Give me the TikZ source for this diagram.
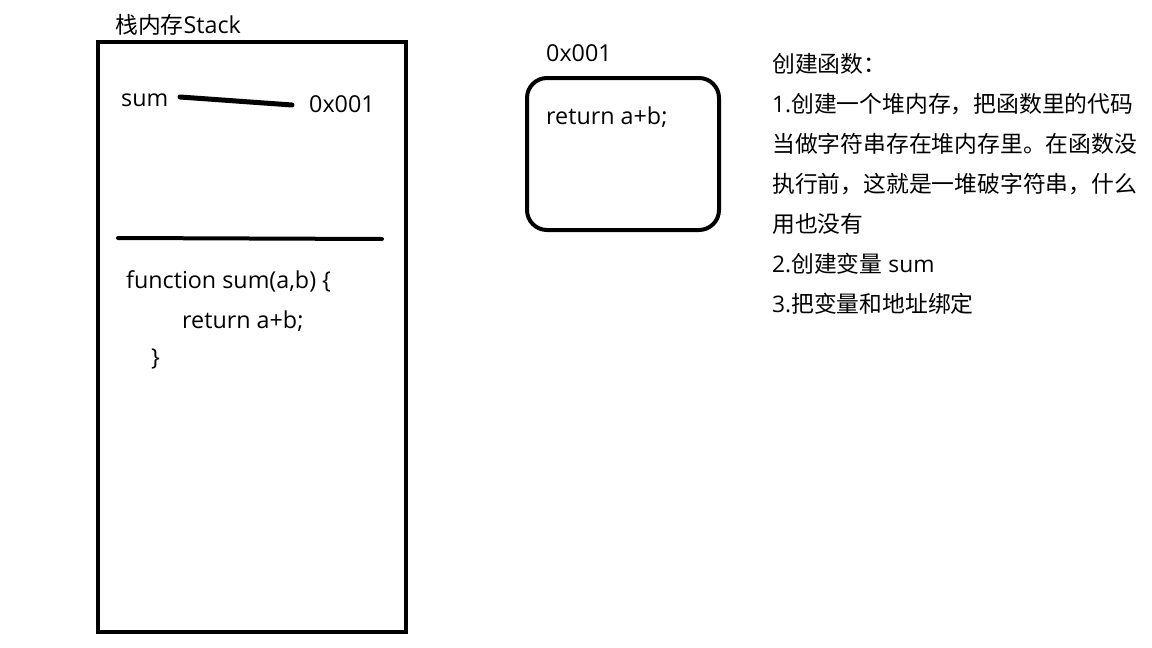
\documentclass[tikz,border=0pt]{standalone}
\usepackage{fontspec}
\setmainfont{Open Sans}
\newfontfamily\cjk{Noto Sans CJK SC}
\begin{document}
\begin{tikzpicture}[x=1pt,y=-1pt,
  txt/.style={anchor=west,inner sep=0pt,font=\fontsize{23.3}{26}\selectfont},
  ctxt/.style={anchor=west,inner sep=0pt,font=\fontsize{22.8}{26}\selectfont},
]
\useasboundingbox (0,0) rectangle (1152,648);
% stack
\node[txt] (title) at (115,25) {{\cjk\fontsize{22.8}{26}\selectfont 栈内存}Stack};
\draw[line width=4.5pt] (98,42) rectangle (406,632);
\node[txt] (sumv) at (121,100) {sum};
\node[txt] (addr1) at (309,104) {0x001};
\coordinate (la) at (180,97);
\coordinate (lb) at (292,105);
\draw[line width=5pt,line cap=round] (la) -- (lb);
\coordinate (da) at (118,238);
\coordinate (db) at (382,239);
\draw[line width=4pt,line cap=round] (da) -- (db);
\node[txt] (f1) at (126,281) {function sum(a,b) \{};
\node[txt] (f2) at (182,321) {return a+b;};
\node[txt] (f3) at (151,359) {\}};
% heap
\node[txt] (addr2) at (546,53) {0x001};
\draw[line width=4pt,rounded corners=20pt] (527,78) rectangle (719,230);
\node[txt] (hret) at (546,117) {return a+b;};
% notes
\node[ctxt] (n1) at (772,64) {\cjk 创建函数：};
\node[ctxt] (n2) at (772,104) {1.{\cjk 创建一个堆内存，把函数里的代码}};
\node[ctxt] (n3) at (772,144) {\cjk 当做字符串存在堆内存里。在函数没};
\node[ctxt] (n4) at (772,184) {\cjk 执行前，这就是一堆破字符串，什么};
\node[ctxt] (n5) at (772,224) {\cjk 用也没有};
\node[ctxt] (n6) at (772,264) {2.{\cjk 创建变量} sum};
\node[ctxt] (n7) at (772,304) {3.{\cjk 把变量和地址绑定}};
\end{tikzpicture}
\end{document}
